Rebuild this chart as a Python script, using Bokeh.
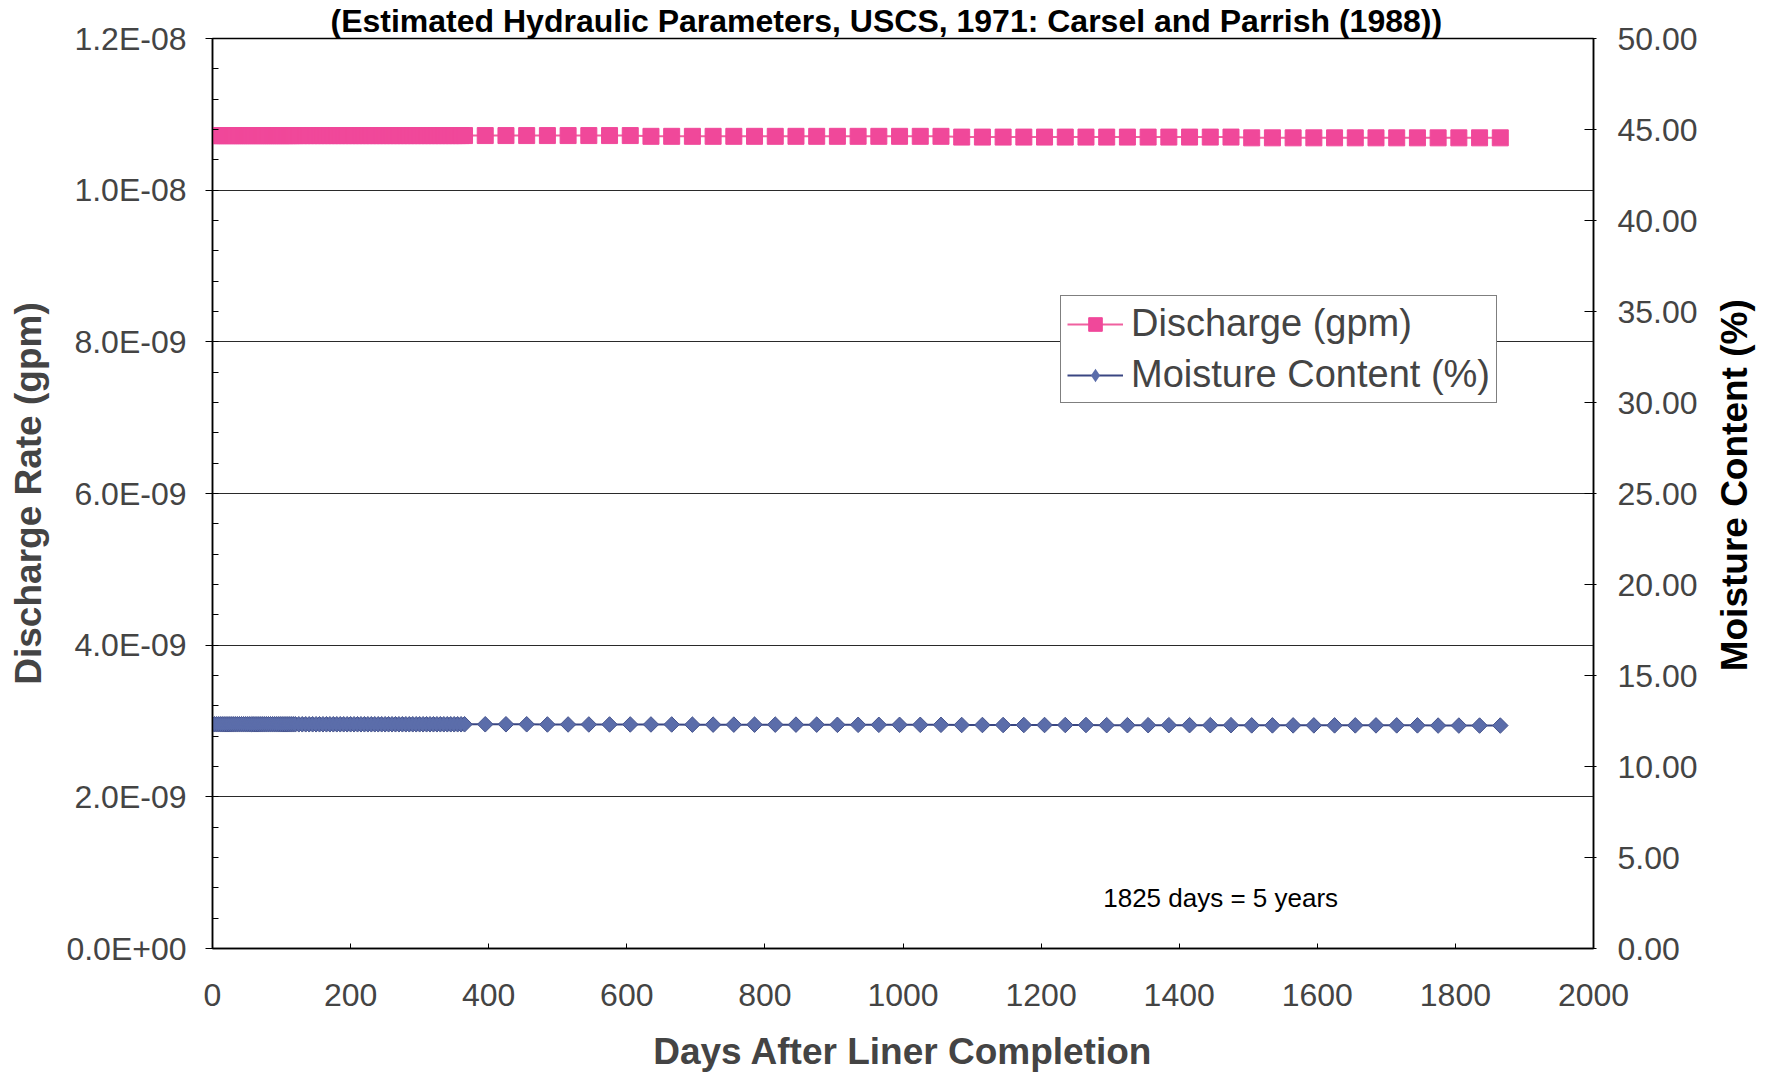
from bokeh.plotting import figure
from bokeh.layouts import row
from bokeh.models import Range1d, LinearAxis, FixedTicker, Legend, LegendItem, Label
from bokeh.core.properties import value
from bokeh.embed import file_html
from bokeh.resources import INLINE
import math

# ---------------- data ----------------
days = [0, 3, 6, 9, 12, 15, 18, 21, 24, 27, 30, 33, 36, 39, 42, 45, 48, 51, 54, 57,
        60, 63, 66, 69, 72, 75, 78, 81, 84, 87, 90, 93, 96, 99, 102, 105, 108, 111, 114, 117,
        120, 125, 130, 135, 140, 145, 150, 155, 160, 165, 170, 175, 180, 185, 190, 195, 200,
        205, 210, 215, 220, 225, 230, 235, 240, 245, 250, 255, 260, 265, 270, 275, 280, 285,
        290, 295, 300, 305, 310, 315, 320, 325, 330, 335, 340, 345, 350, 355, 360, 365,
        395, 425, 455, 485, 515, 545, 575, 605, 635, 665, 695, 725, 755, 785, 815, 845,
        875, 905, 935, 965, 995, 1025, 1055, 1085, 1115, 1145, 1175, 1205, 1235, 1265,
        1295, 1325, 1355, 1385, 1415, 1445, 1475, 1505, 1535, 1565, 1595, 1625, 1655,
        1685, 1715, 1745, 1775, 1805, 1835, 1865]

discharge_gpm = [
    1.072e-08, 1.072e-08, 1.072e-08, 1.072e-08, 1.072e-08, 1.072e-08, 1.072e-08, 1.072e-08, 1.072e-08, 1.072e-08,
    1.072e-08, 1.072e-08, 1.072e-08, 1.072e-08, 1.072e-08, 1.072e-08, 1.072e-08, 1.072e-08, 1.072e-08, 1.072e-08,
    1.072e-08, 1.072e-08, 1.072e-08, 1.072e-08, 1.072e-08, 1.072e-08, 1.072e-08, 1.072e-08, 1.072e-08, 1.072e-08,
    1.072e-08, 1.072e-08, 1.072e-08, 1.072e-08, 1.072e-08, 1.072e-08, 1.072e-08, 1.072e-08, 1.072e-08, 1.072e-08,
    1.072e-08, 1.072e-08, 1.072e-08, 1.072e-08, 1.072e-08, 1.072e-08, 1.072e-08, 1.072e-08, 1.072e-08, 1.072e-08,
    1.072e-08, 1.072e-08, 1.072e-08, 1.072e-08, 1.072e-08, 1.072e-08, 1.072e-08, 1.072e-08, 1.072e-08, 1.072e-08,
    1.072e-08, 1.072e-08, 1.072e-08, 1.072e-08, 1.072e-08, 1.072e-08, 1.072e-08, 1.072e-08, 1.072e-08, 1.072e-08,
    1.072e-08, 1.072e-08, 1.072e-08, 1.072e-08, 1.072e-08, 1.072e-08, 1.072e-08, 1.072e-08, 1.072e-08, 1.072e-08,
    1.072e-08, 1.072e-08, 1.072e-08, 1.072e-08, 1.072e-08, 1.072e-08, 1.072e-08, 1.072e-08, 1.072e-08, 1.072e-08,
    1.072e-08, 1.072e-08, 1.072e-08, 1.072e-08, 1.072e-08, 1.072e-08, 1.072e-08, 1.072e-08, 1.071e-08, 1.071e-08,
    1.071e-08, 1.071e-08, 1.071e-08, 1.071e-08, 1.071e-08, 1.071e-08, 1.071e-08, 1.071e-08, 1.071e-08, 1.071e-08,
    1.071e-08, 1.071e-08, 1.071e-08, 1.070e-08, 1.070e-08, 1.070e-08, 1.070e-08, 1.070e-08, 1.070e-08, 1.070e-08,
    1.070e-08, 1.070e-08, 1.070e-08, 1.070e-08, 1.070e-08, 1.070e-08, 1.070e-08, 1.069e-08, 1.069e-08, 1.069e-08,
    1.069e-08, 1.069e-08, 1.069e-08, 1.069e-08, 1.069e-08, 1.069e-08, 1.069e-08, 1.069e-08, 1.069e-08, 1.069e-08]

moisture_pct = [
    12.32, 12.32, 12.32, 12.32, 12.32, 12.32, 12.32, 12.32, 12.32, 12.32,
    12.32, 12.32, 12.32, 12.32, 12.32, 12.32, 12.32, 12.32, 12.32, 12.32,
    12.32, 12.32, 12.32, 12.32, 12.32, 12.32, 12.32, 12.32, 12.32, 12.32,
    12.32, 12.32, 12.32, 12.32, 12.32, 12.32, 12.32, 12.32, 12.32, 12.32,
    12.32, 12.32, 12.32, 12.32, 12.32, 12.32, 12.32, 12.32, 12.32, 12.32,
    12.32, 12.32, 12.32, 12.32, 12.32, 12.32, 12.32, 12.32, 12.32, 12.32,
    12.32, 12.32, 12.32, 12.32, 12.32, 12.32, 12.32, 12.32, 12.32, 12.32,
    12.32, 12.32, 12.32, 12.32, 12.32, 12.32, 12.32, 12.32, 12.32, 12.32,
    12.32, 12.32, 12.32, 12.32, 12.32, 12.32, 12.32, 12.32, 12.32, 12.32,
    12.32, 12.32, 12.32, 12.31, 12.31, 12.31, 12.31, 12.31, 12.31, 12.31,
    12.30, 12.30, 12.30, 12.30, 12.30, 12.30, 12.30, 12.29, 12.29, 12.29,
    12.29, 12.29, 12.29, 12.28, 12.28, 12.28, 12.28, 12.28, 12.28, 12.28,
    12.27, 12.27, 12.27, 12.27, 12.27, 12.27, 12.27, 12.26, 12.26, 12.26,
    12.26, 12.26, 12.26, 12.26, 12.26, 12.26, 12.25, 12.25, 12.25, 12.25]

x_ticks = [0, 200, 400, 600, 800, 1000, 1200, 1400, 1600, 1800, 2000]
left_ticks = [0.0, 2e-09, 4e-09, 6e-09, 8e-09, 1e-08, 1.2e-08]
left_tick_labels = ["0.0E+00", "2.0E-09", "4.0E-09", "6.0E-09", "8.0E-09", "1.0E-08", "1.2E-08"]
right_ticks = [0, 5, 10, 15, 20, 25, 30, 35, 40, 45, 50]
right_tick_labels = ["0.00", "5.00", "10.00", "15.00", "20.00", "25.00", "30.00",
                     "35.00", "40.00", "45.00", "50.00"]

title_text = "(Estimated Hydraulic Parameters, USCS, 1971: Carsel and Parrish (1988))"
x_title = "Days After Liner Completion"
left_title = "Discharge Rate (gpm)"
right_title = "Moisture Content (%)"
note_text = "1825 days = 5 years"

# ---------------- styling ----------------
FONT = "Liberation Sans"
PINK = "#F0489A"
PINK_LINE = "#F0609F"
BLUE = "#5B6DAA"
BLUE_EDGE = "#46548E"
BLUE_LINE = "#3A4682"

p = figure(width=1710, height=1075, output_backend="svg", toolbar_location=None,
           x_range=Range1d(0, 2000), y_range=Range1d(0, 1.2e-08),
           min_border_left=212, min_border_right=117, min_border_top=36,
           min_border_bottom=127, background_fill_color="white",
           border_fill_color="white")
p.extra_y_ranges = {"moist": Range1d(0, 50)}

# title
p.title.text = title_text
p.title.align = "left"
p.title.offset = 118
p.title.text_font = FONT
p.title.text_font_style = "bold"
p.title.text_font_size = "32px"
p.title.text_color = "black"
p.title.standoff = 0

p.outline_line_color = "black"
p.outline_line_width = 1.5
p.xgrid.visible = False
p.ygrid.grid_line_color = "#2a2a2a"
p.ygrid.grid_line_width = 1.2

# x axis
xa = p.xaxis[0]
xa.ticker = FixedTicker(ticks=x_ticks)
xa.axis_label = x_title
xa.axis_label_text_font = FONT
xa.axis_label_text_font_style = "bold"
xa.axis_label_text_font_size = "37px"
xa.axis_label_standoff = 22
xa.major_label_text_font = FONT
xa.major_label_text_font_size = "32px"
xa.major_label_standoff = 35
xa.major_tick_in = 5
xa.major_tick_out = 0
xa.minor_tick_line_color = None
xa.axis_line_color = "black"
xa.axis_line_width = 1.5

# left axis
ya = p.yaxis[0]
minor_left = [k * 4e-10 for k in range(31)]
ya.ticker = FixedTicker(ticks=left_ticks, minor_ticks=minor_left)
ya.major_label_overrides = {t: s for t, s in zip(left_ticks, left_tick_labels)}
ya.axis_label = left_title
ya.axis_label_text_font = FONT
ya.axis_label_text_font_style = "bold"
ya.axis_label_text_font_size = "37px"
ya.axis_label_standoff = 14
ya.major_label_text_font = FONT
ya.major_label_text_font_size = "32px"
ya.major_label_standoff = 19
ya.major_tick_in = 0
ya.major_tick_out = 7
ya.minor_tick_in = 6
ya.minor_tick_out = 0
ya.axis_line_color = "black"
ya.axis_line_width = 1.5

# right axis (ticks and numbers)
ra = LinearAxis(y_range_name="moist")
ra.ticker = FixedTicker(ticks=right_ticks)
ra.major_label_overrides = {t: s for t, s in zip(right_ticks, right_tick_labels)}
ra.major_label_text_font = FONT
ra.major_label_text_font_size = "32px"
ra.major_label_standoff = 21
ra.major_tick_in = 9
ra.major_tick_out = 3
ra.minor_tick_line_color = None
ra.axis_line_color = "black"
ra.axis_line_width = 1.5
p.add_layout(ra, "right")

# series
l1 = p.line(days, discharge_gpm, line_color=PINK_LINE, line_width=2)
s1 = p.scatter(days, discharge_gpm, marker="square", size=16,
               fill_color=PINK, line_color=PINK, line_width=1)
l2 = p.line(days, moisture_pct, y_range_name="moist", line_color=BLUE_LINE, line_width=2)
s2 = p.scatter(days, moisture_pct, y_range_name="moist", marker="square",
               angle=math.pi / 4, size=11, fill_color=BLUE, line_color=BLUE_EDGE,
               line_width=1)
# same points drawn as upright diamonds (fit inside the rotated squares); used as legend key
s2_key = p.scatter(days, moisture_pct, y_range_name="moist", marker="diamond", size=13,
                   fill_color=BLUE, line_color=None)

legend = Legend(items=[LegendItem(label="Discharge (gpm)", renderers=[l1, s1]),
                       LegendItem(label="Moisture Content (%)", renderers=[l2, s2_key])],
                location=(848, 545))
legend.label_text_font = FONT
legend.label_text_font_size = "38px"
legend.label_standoff = 8
legend.glyph_width = 56
legend.glyph_height = 34
legend.label_height = 34
legend.spacing = 8
legend.padding = 6
legend.margin = 0
legend.border_line_color = "black"
legend.border_line_width = 1
legend.background_fill_color = "white"
legend.background_fill_alpha = 1
p.add_layout(legend)

p.add_layout(Label(x=1290, y=6.67e-10, text=note_text, text_align="left",
                   text_baseline="middle", text_font=FONT, text_font_size="26px",
                   text_color="black"))

# narrow strip on the right carrying the right-axis title, reading bottom-to-top
p2 = figure(width=59, height=1075, output_backend="svg", toolbar_location=None,
            x_range=Range1d(0, 1), y_range=Range1d(0, 1), title=None,
            min_border=0, background_fill_color="white", border_fill_color="white")
p2.outline_line_color = None
p2.xaxis.visible = False
p2.yaxis.visible = False
p2.xgrid.visible = False
p2.ygrid.visible = False
p2.text(x=[0.41], y=[0.509], text=[right_title], angle=math.pi / 2,
        text_align="center", text_baseline="middle", text_font=value(FONT),
        text_font_style="bold", text_font_size="37px", text_color="black")

layout = row(p, p2, spacing=0)

open("out.html", "w").write(file_html(layout, INLINE))
